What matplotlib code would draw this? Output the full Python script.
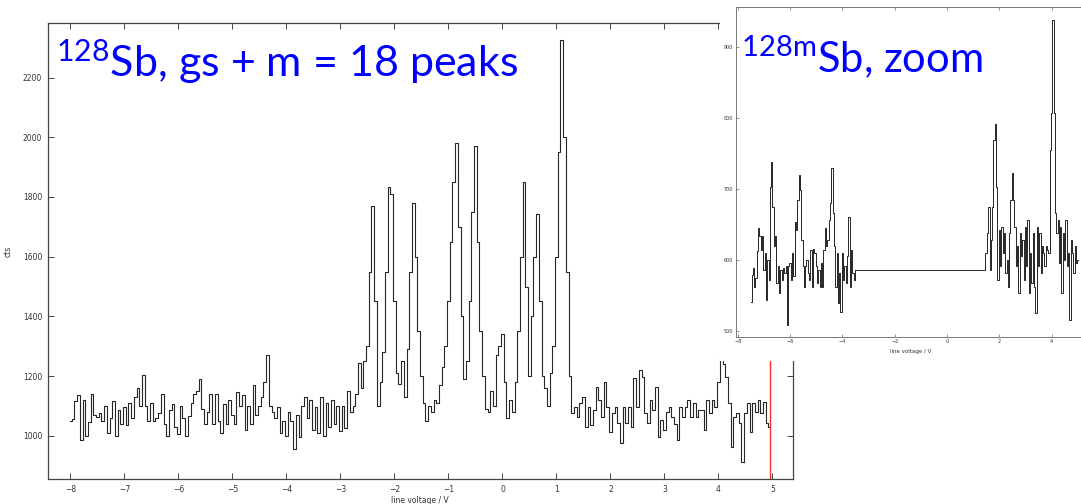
import numpy as np
import matplotlib
matplotlib.use("Agg")
import matplotlib.pyplot as plt
from matplotlib.patches import Rectangle

plt.rcParams['mathtext.fontset'] = 'custom'
plt.rcParams['mathtext.rm'] = 'Lato'
plt.rcParams['mathtext.it'] = 'Lato'
plt.rcParams['mathtext.bf'] = 'Lato'

# ---------------- main spectrum (128Sb, gs + m) ----------------
main_start = -8.0
main_step = 0.05
main_counts = [
    # -8.00 .. -7.05
    1048, 1055, 1115, 1135, 985, 1120, 1000, 1045, 1140, 1070,
    1062, 1075, 1050, 1100, 1010, 1060, 1115, 1000, 1085, 1040,
    # -7.00 .. -6.05
    1095, 1035, 1110, 1060, 1130, 1160, 1100, 1205, 1100, 1050,
    1110, 1050, 1060, 1075, 1140, 1040, 1000, 1085, 1105, 1030,
    # -6.00 .. -5.05
    1005, 1100, 1060, 1000, 1065, 1110, 1140, 1150, 1190, 1090,
    1040, 1080, 1140, 1040, 1140, 1050, 1010, 1105, 1040, 1120,
    # -5.00 .. -4.05
    1070, 1040, 1145, 1100, 1135, 1020, 1100, 1040, 1170, 1070,
    1100, 1130, 1180, 1270, 1100, 1080, 1060, 1095, 1010, 1050,
    # -4.00 .. -3.05
    1000, 1080, 1050, 955, 1070, 995, 1100, 1130, 1060, 1120,
    1020, 1095, 1010, 1130, 1000, 1110, 1030, 1120, 1040, 1100,
    # -3.00 .. -2.05
    1015, 1100, 1025, 1150, 1080, 1100, 1140, 1245, 1160, 1250,
    1300, 1550, 1770, 1450, 1100, 1180, 1280, 1550, 1832, 1810,
    # -2.00 .. -1.05
    1450, 1210, 1175, 1250, 1130, 1290, 1550, 1780, 1600, 1350,
    1200, 1110, 1050, 1100, 1080, 1120, 1110, 1170, 1230, 1300,
    # -1.00 .. -0.05
    1450, 1650, 1850, 1981, 1700, 1400, 1190, 1250, 1450, 1750,
    1972, 1650, 1350, 1200, 1090, 1080, 1150, 1100, 1270, 1300,
    # 0.00 .. 0.95
    1340, 1180, 1060, 1120, 1080, 1180, 1350, 1600, 1851, 1500,
    1200, 1400, 1600, 1743, 1450, 1200, 1160, 1100, 1210, 1300,
    # 1.00 .. 1.95
    1600, 1950, 2326, 2000, 1550, 1200, 1075, 1097, 1064, 1110,
    1131, 1030, 1097, 1036, 1086, 1164, 1120, 1064, 1181, 1097,
    # 2.00 .. 2.95
    1013, 1075, 1097, 1041, 974, 1097, 1041, 1097, 1030, 1192,
    1097, 1220, 1198, 1075, 1041, 1120, 1086, 1164, 997, 1052,
    # 3.00 .. 3.95
    1019, 1080, 1097, 1064, 1040, 985, 1097, 1064, 1097, 1120,
    1064, 1108, 1064, 1086, 1086, 1019, 1120, 1075, 1120, 1097,
    # 4.00 .. 4.95
    1180, 1265, 1242, 1198, 1110, 963, 1064, 1075, 1041, 913,
    1075, 1108, 1013, 1108, 1080, 1120, 1075, 1114, 1041, 1030,
]
main_voltage = main_start + main_step * np.arange(len(main_counts))
marker_voltage = 4.95

# ---------------- inset spectrum (128mSb, zoom) ----------------
inset_step = 0.05
inset_left_start = -7.5
inset_left_counts = [
    541, 579, 588, 562, 574, 612, 645, 633, 614, 633,
    586, 609, 544, 600, 572, 703, 738, 675, 619, 633,
    567, 591, 553, 586, 572, 588, 581, 591, 508, 591,
    595, 572, 609, 577, 654, 642, 685, 720, 699, 628,
    591, 562, 591, 600, 581, 572, 614, 562, 616, 609,
    591, 567, 586, 562, 595, 562, 614, 645, 619, 628,
    656, 680, 729, 666, 619, 562, 609, 539, 581, 527,
    609, 572, 591, 567, 605, 661, 562, 614, 581, 572,
]
inset_gap_level = 585
inset_gap_end = 1.47
inset_right_start = 1.5
inset_right_counts = [
    609, 638, 675, 586, 628, 675, 769, 792, 703, 572,
    642, 591, 647, 609, 638, 581, 600, 562, 638, 685,
    722, 685, 647, 591, 619, 553, 638, 605, 628, 572,
    647, 591, 656, 553, 609, 567, 638, 562, 525, 647,
    591, 638, 581, 619, 609, 591, 619, 614, 609, 755,
    807, 938, 807, 666, 638, 656, 595, 647, 553, 638,
    600, 656, 591, 609, 515, 628, 609, 581, 619, 595,
    600,
]

W, H = 1081, 504
fig = plt.figure(figsize=(W / 100, H / 100), dpi=100)
fig.patch.set_facecolor('white')

def fx(px):
    return px / W

def fy(py):
    return 1 - py / H

line_col = '#262626'
tick_col = '#333333'

# main axes
ax = fig.add_axes([fx(47.7), fy(479), fx(793 - 47.7), (479 - 23) / H])
ax.step(main_voltage, main_counts, where='mid', color=line_col, lw=0.8)
ax.axvline(marker_voltage, color='#ff3030', lw=1.0)
ax.set_xlim(-8.42, 5.38)
ax.set_ylim(855, 2383)
ax.set_xticks(np.arange(-8, 6, 1))
ax.set_yticks(np.arange(1000, 2201, 200))
ax.tick_params(direction='in', length=4, width=0.7, top=True, right=True,
               labelsize=5.5, labelcolor=tick_col, colors='#444444', pad=4)
for s in ax.spines.values():
    s.set_color('#444444')
    s.set_linewidth(0.9)
ax.set_xlabel('line voltage / V', fontsize=5.5, color=tick_col, labelpad=1.5)
ax.set_ylabel('cts', fontsize=5.5, color=tick_col, labelpad=7)

fig.text(fx(56), fy(77), r'$^{128}$Sb, gs + m = 18 peaks', color='#0000ff',
         fontsize=31, family='Lato', va='baseline', ha='left')

# inset white backing
cover = fig.add_axes([fx(720), fy(361), fx(W - 720), 361 / H])
cover.set_axis_off()
cover.add_patch(Rectangle((0, 0), 1, 1, transform=cover.transAxes,
                          facecolor='white', edgecolor='none'))

# inset axes
ix0, ix1 = -8.07, 5.3
px_per_unit = 26.15
iax = fig.add_axes([fx(736), fy(336.7), (ix1 - ix0) * px_per_unit / W, (336.7 - 7) / H])
left_v = inset_left_start + inset_step * np.arange(len(inset_left_counts))
right_v = inset_right_start + inset_step * np.arange(len(inset_right_counts))
iax.step(left_v, inset_left_counts, where='mid', color=line_col, lw=0.7)
iax.plot([left_v[-1] + inset_step / 2, inset_gap_end], [inset_gap_level, inset_gap_level],
         color=line_col, lw=0.7)
iax.plot([inset_gap_end, inset_gap_end], [inset_gap_level, inset_right_counts[0]],
         color=line_col, lw=0.7)
iax.plot([left_v[-1] + inset_step / 2, left_v[-1] + inset_step / 2],
         [inset_left_counts[-1], inset_gap_level], color=line_col, lw=0.7)
iax.step(right_v, inset_right_counts, where='mid', color=line_col, lw=0.7)
iax.set_xlim(ix0, ix1)
iax.set_ylim(491.5, 957)
iax.set_xticks(np.arange(-8, 5, 2))
iax.set_yticks(np.arange(500, 901, 100))
iax.tick_params(direction='in', length=2.5, width=0.5, top=True, right=True,
                labelsize=3.5, labelcolor=tick_col, colors='#666666', pad=2)
for s in iax.spines.values():
    s.set_color('#777777')
    s.set_linewidth(0.7)
iax.set_xlabel('line voltage / V', fontsize=4, color=tick_col, labelpad=3)

fig.text(fx(741), fy(72), r'$^{128m}$Sb, zoom', color='#0000ff',
         fontsize=30, family='Lato', va='baseline', ha='left')

fig.savefig('out.png', dpi=100)
